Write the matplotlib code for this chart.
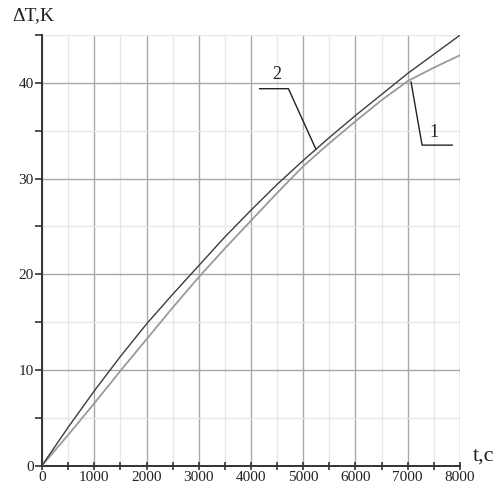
import matplotlib.pyplot as plt
from matplotlib.ticker import MultipleLocator

plt.rcParams['font.family'] = ['Liberation Serif', 'DejaVu Serif']

# heating curves, time in seconds
t = [0, 250, 500, 1000, 1500, 2000, 2500, 3000, 3500, 4000, 4500,
     5000, 5500, 6000, 6500, 7000, 7500, 8000]
dT_1 = [0, 1.6, 3.2, 6.5, 9.9, 13.2, 16.5, 19.7, 22.7, 25.6, 28.5,
        31.3, 33.7, 36.0, 38.2, 40.2, 41.6, 42.9]
dT_2 = [0, 2.0, 4.0, 7.8, 11.4, 14.8, 17.9, 20.9, 23.9, 26.7, 29.4,
        31.9, 34.3, 36.6, 38.8, 41.0, 43.0, 45.0]

x_ticks = [0, 1000, 2000, 3000, 4000, 5000, 6000, 7000, 8000]
y_ticks = [0, 10, 20, 30, 40]

fig = plt.figure(figsize=(5, 4.88), dpi=100)
ax = fig.add_axes([0.084, 0.046, 0.836, 0.882])

ax.plot(t, dT_1, color='#9a9a9a', lw=1.3, zorder=3)
ax.plot(t, dT_2, color='#3c3c3c', lw=1.0, zorder=4)

ax.set_xlim(0, 8000)
ax.set_ylim(0, 45)
ax.set_xticks(x_ticks)
ax.set_yticks(y_ticks)
ax.xaxis.set_minor_locator(MultipleLocator(500))
ax.yaxis.set_minor_locator(MultipleLocator(5))

ax.grid(which='major', color='#a8a8a8', lw=1.0)
ax.grid(which='minor', color='#e6e6e6', lw=0.9)
ax.set_axisbelow(True)

for s in ['top', 'right']:
    ax.spines[s].set_visible(False)
for s in ['left', 'bottom']:
    ax.spines[s].set_color('#333333')
    ax.spines[s].set_linewidth(1.4)

ax.tick_params(which='both', direction='inout', length=6, width=1.2,
               color='#333333', labelsize=11, labelcolor='#222222', pad=1)
ax.tick_params(axis='y', which='both', direction='out', length=5)

ax.text(-0.072, 1.025, 'ΔT,K', transform=ax.transAxes, fontsize=14,
        color='#222222', ha='left', va='bottom')
ax.text(1.03, 0.0, 't,c', transform=ax.transAxes, fontsize=16,
        color='#222222', ha='left', va='bottom')

# leader lines with curve numbers
ax.plot([4165, 4716, 5240], [39.4, 39.4, 33.1], color='#222222', lw=1.0,
        clip_on=False, zorder=5)
ax.text(4500, 40.0, '2', fontsize=13, color='#222222', ha='center',
        va='bottom')
ax.plot([7063, 7274, 7850], [40.1, 33.5, 33.5], color='#222222', lw=1.0,
        clip_on=False, zorder=5)
ax.text(7500, 33.9, '1', fontsize=13, color='#222222', ha='center',
        va='bottom')

fig.savefig('out.png', dpi=100)
